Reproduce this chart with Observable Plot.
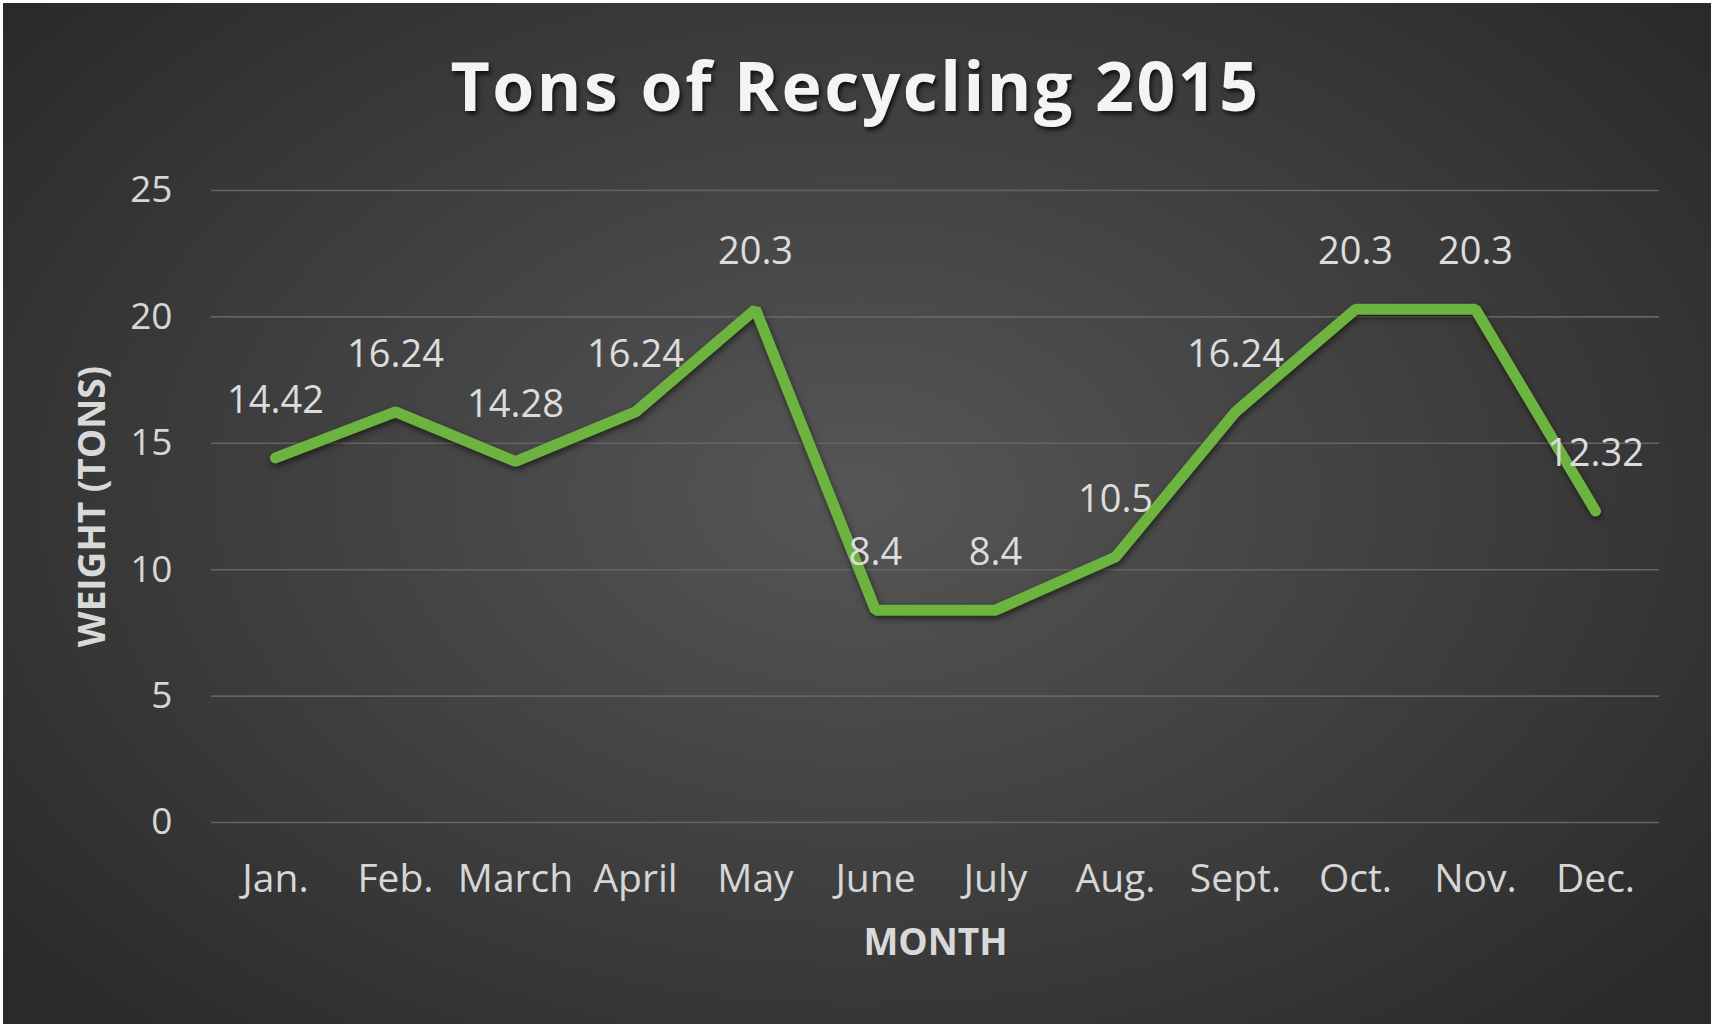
<!DOCTYPE html>
<html>
<head>
<meta charset="utf-8">
<script src="https://cdn.jsdelivr.net/npm/d3@7"></script>
<script src="https://cdn.jsdelivr.net/npm/@observablehq/plot@0.6"></script>
<style>
  html, body { margin: 0; padding: 0; background: #2a2a2a; }
  #chart {
    position: relative; width: 1711px; height: 1027px; overflow: hidden;
    background: radial-gradient(ellipse 64% 72% at 50% 48%, #565656 0%, #3e3e3e 55%, #2a2a2a 100%);
    box-shadow: inset 3px 3px 0 #ffffff, inset 0 -3px 0 #ffffff;
    font-family: "Open Sans", sans-serif;
  }
  #title {
    box-sizing: border-box; height: 150px; padding-top: 35px; line-height: 100px;
    text-align: center; font-size: 68px; font-weight: 700; color: #f4f4f4;
    letter-spacing: 2.5px;
    text-shadow: 2px 3px 4px rgba(0,0,0,0.75);
  }
  #chart svg { display: block; background: transparent; }
  #chart svg g[aria-label="line"] path { filter: drop-shadow(1px 3px 3px rgba(0,0,0,0.55)); }
</style>
</head>
<body>
<div id="chart"><div id="title">Tons of Recycling 2015</div></div>
<script>
const months = ["Jan.", "Feb.", "March", "April", "May", "June", "July", "Aug.", "Sept.", "Oct.", "Nov.", "Dec."];
const tons = [14.42, 16.24, 14.28, 16.24, 20.3, 8.4, 8.4, 10.5, 16.24, 20.3, 20.3, 12.32];
const yTicks = [0, 5, 10, 15, 20, 25];
const xTitle = "MONTH";
const yTitle = "WEIGHT (TONS)";

const data = months.map((m, i) => ({month: m, value: tons[i]}));

const chart = Plot.plot({
  width: 1711,
  height: 877,
  marginTop: 40,
  marginBottom: 205,
  marginLeft: 211,
  marginRight: 52,
  style: {background: "transparent", color: "#d6d6d6", fontFamily: "'Open Sans', sans-serif"},
  x: {type: "point", domain: months, padding: 0.49},
  y: {domain: [0, 25]},
  marks: [
    Plot.gridY(yTicks, {stroke: "#646464", strokeOpacity: 1, strokeWidth: 1.6}),
    Plot.axisY(yTicks, {tickSize: 0, tickPadding: 39, fontSize: 37, label: null, fill: "#d6d6d6"}),
    Plot.axisX({tickSize: 0, tickPadding: 42, fontSize: 39, label: null, fill: "#d6d6d6"}),
    Plot.line(data, {x: "month", y: "value", stroke: "#6cb33f", strokeWidth: 11, strokeLinejoin: "miter", strokeLinecap: "round"}),
    Plot.text(data, {x: "month", y: "value", text: d => String(d.value), dy: -57, fontSize: 38, fill: "#dcdcdc"}),
    Plot.text([yTitle], {frameAnchor: "left", dx: -118, rotate: -90, textAnchor: "middle", lineAnchor: "middle", fontSize: 37, fontWeight: 700, fill: "#d9d9d9"}),
    Plot.text([xTitle], {frameAnchor: "bottom", dy: 121, textAnchor: "middle", lineAnchor: "middle", fontSize: 37, fontWeight: 700, fill: "#d9d9d9"})
  ]
});
document.getElementById("chart").appendChild(chart);
</script>
</body>
</html>
